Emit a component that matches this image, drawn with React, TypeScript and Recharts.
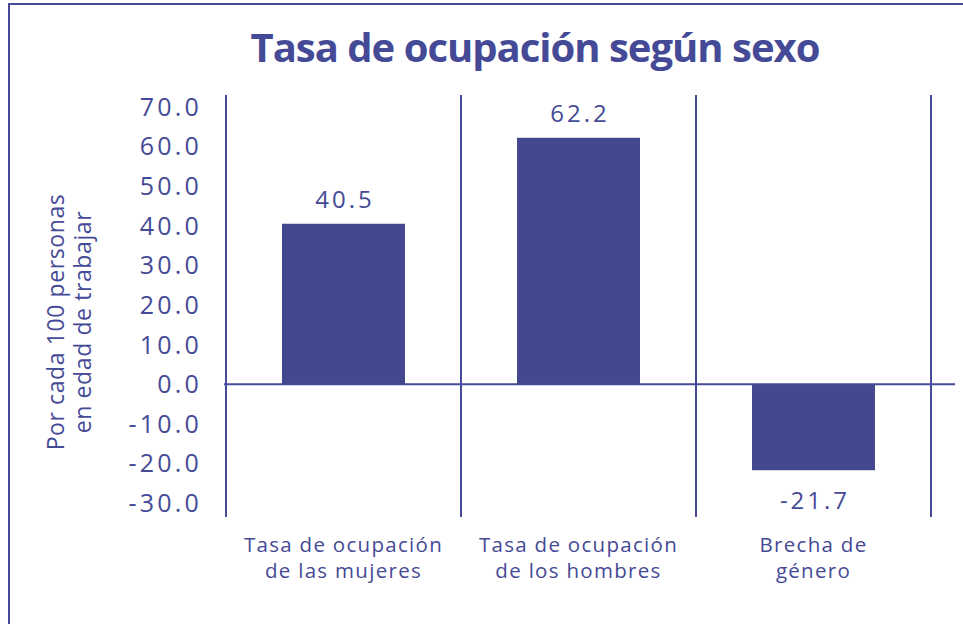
import React from 'react';
import { BarChart, Bar, XAxis, YAxis, ReferenceLine, LabelList, Label } from 'recharts';

// categories (line breaks as printed under the axis)
const categories = [
  'Tasa de ocupación\nde las mujeres',
  'Tasa de ocupación\nde los hombres',
  'Brecha de\ngénero',
];
const values = [40.5, 62.2, -21.7];
const yTicks = [70, 60, 50, 40, 30, 20, 10, 0, -10, -20, -30];
const title = 'Tasa de ocupación según sexo';
const yLabelLines = ['Por cada 100 personas', 'en edad de trabajar'];

const data = categories.map((name, i) => ({ name, value: values[i] }));

const INK = '#454a96';
const BAR = '#44488f';
const FONT = '"Open Sans", sans-serif';

const CategoryTick = (props: any) => {
  const { x, y, payload } = props;
  const lines = String(payload.value).split('\n');
  return (
    <g>
      {lines.map((l, i) => (
        <text
          key={i}
          x={x}
          y={y + i * 25.5}
          textAnchor="middle"
          fill={INK}
          fontFamily={FONT}
          fontSize={20.5}
          letterSpacing={1.3}
        >
          {l}
        </text>
      ))}
    </g>
  );
};

const ValueLabel = (props: any) => {
  const vb = props.viewBox ?? props;
  const { x, y, width, height } = vb;
  const v = Number(props.value);
  const top = Math.min(y, y + height);
  const bottom = Math.max(y, y + height);
  const ty = v >= 0 ? top - 25 : bottom + 29;
  return (
    <text
      x={x + width / 2 + 1.5}
      y={ty}
      textAnchor="middle"
      dominantBaseline="central"
      fill={INK}
      fontFamily={FONT}
      fontSize={24}
      letterSpacing={3}
    >
      {v.toFixed(1)}
    </text>
  );
};

const YTitle = () => {
  const cx = 64;
  const cy = 322;
  return (
    <text
      x={cx}
      y={cy}
      textAnchor="middle"
      fill={INK}
      fontFamily={FONT}
      fontSize={23}
      letterSpacing={0.6}
      transform={`rotate(-90 ${cx} ${cy})`}
    >
      {yLabelLines.map((l, i) => (
        <tspan key={i} x={cx} dy={i === 0 ? 0 : 27}>
          {l}
        </tspan>
      ))}
    </text>
  );
};

const ZeroLine = (p: any) => (
  <line x1={p.x1 - 2} y1={p.y1} x2={p.x2 + 24} y2={p.y2} stroke={INK} strokeWidth={2} />
);

export default function App() {
  return (
    <div style={{ position: 'absolute', left: 0, top: 0, width: 963, height: 624, background: '#fff' }}>
      <div
        style={{
          position: 'absolute',
          left: 8,
          top: 3,
          width: 955,
          height: 621,
          borderTop: `2px solid ${INK}`,
          borderLeft: `2px solid ${INK}`,
          boxSizing: 'border-box',
        }}
      />
      <svg width={963} height={80} style={{ position: 'absolute', left: 0, top: 0 }}>
        <text
          x={535}
          y={62}
          textAnchor="middle"
          fill={INK}
          fontFamily={FONT}
          fontWeight={700}
          fontSize={40}
          letterSpacing={-1}
        >
          {title}
        </text>
      </svg>
      <div style={{ position: 'absolute', left: 0, top: 0 }}>
        <BarChart
          width={963}
          height={624}
          data={data}
          margin={{ top: 95, right: 32, left: 0, bottom: 0 }}
        >
          <XAxis
            dataKey="name"
            axisLine={false}
            tickLine={false}
            tickSize={0}
            tickMargin={35}
            height={107}
            interval={0}
            tick={<CategoryTick />}
          />
          <YAxis
            width={226}
            domain={[-33.5, 73]}
            ticks={yTicks}
            interval={0}
            allowDataOverflow
            tickFormatter={(v: number) => v.toFixed(1)}
            axisLine={{ stroke: INK, strokeWidth: 2 }}
            tickLine={false}
            tickSize={0}
            tickMargin={24}
            tick={{ fill: INK, fontSize: 25, fontFamily: FONT, letterSpacing: 3.2 }}
          >
            <Label content={<YTitle />} />
          </YAxis>
          <ReferenceLine x={categories[1]} position="start" stroke={INK} strokeWidth={2} />
          <ReferenceLine x={categories[2]} position="start" stroke={INK} strokeWidth={2} />
          <ReferenceLine x={categories[2]} position="end" stroke={INK} strokeWidth={2} />
          <ReferenceLine y={0} shape={ZeroLine} />
          <Bar dataKey="value" fill={BAR} barSize={123} isAnimationActive={false}>
            <LabelList dataKey="value" content={<ValueLabel />} />
          </Bar>
        </BarChart>
      </div>
    </div>
  );
}
